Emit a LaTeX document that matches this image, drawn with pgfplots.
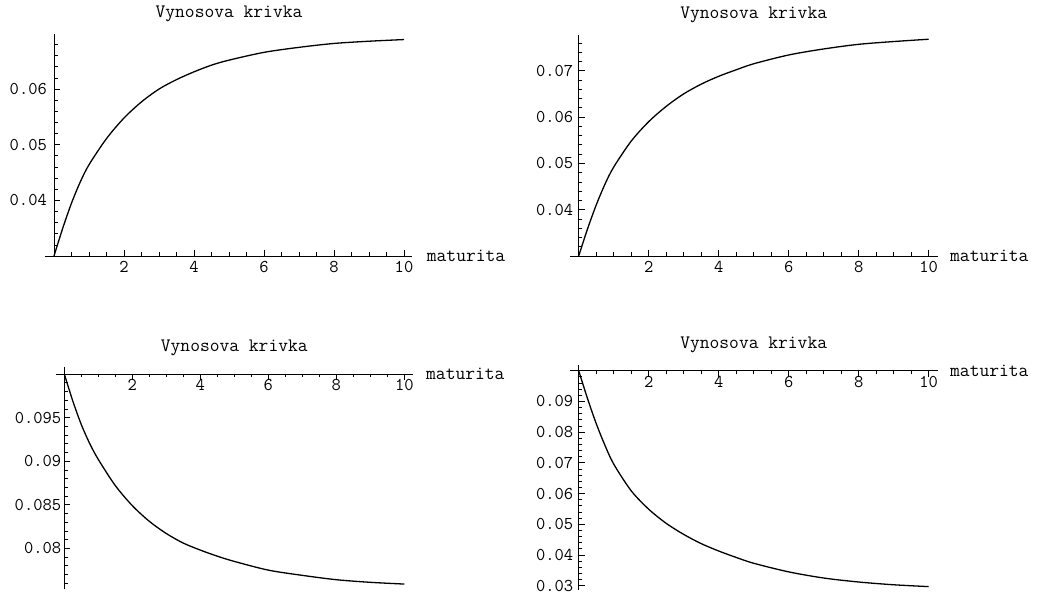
\documentclass[border=0pt]{standalone}
\usepackage{fontspec}
\usepackage{pgfplots}
\pgfplotsset{compat=1.18}
\pgfplotstableread{
x y
0 0.0300
0.25 0.0350
0.5 0.0395
0.75 0.0433
1.0 0.0464
1.5 0.0511
2.0 0.0548
2.5 0.0577
3.0 0.0600
3.5 0.0617
4.0 0.0631
4.5 0.0643
5.0 0.0652
6.0 0.0666
7.0 0.0675
8.0 0.0682
9.0 0.0686
10 0.0689
}\dataA
\pgfplotstableread{
x y
0 0.0300
0.25 0.0358
0.5 0.0410
0.75 0.0455
1.0 0.0492
1.5 0.0548
2.0 0.0590
2.5 0.0623
3.0 0.0650
3.5 0.0671
4.0 0.0688
4.5 0.0702
5.0 0.0715
6.0 0.0734
7.0 0.0747
8.0 0.0757
9.0 0.0763
10 0.0768
}\dataB
\pgfplotstableread{
x y
0 0.1000
0.25 0.0969
0.5 0.0942
0.75 0.0920
1.0 0.0902
1.5 0.0872
2.0 0.0849
2.5 0.0831
3.0 0.0817
3.5 0.0806
4.0 0.0798
4.5 0.0791
5.0 0.0785
6.0 0.0775
7.0 0.0769
8.0 0.0764
9.0 0.0761
10 0.0759
}\dataC
\pgfplotstableread{
x y
0 0.1000
0.25 0.0910
0.5 0.0828
0.75 0.0757
1.0 0.0696
1.5 0.0609
2.0 0.0549
2.5 0.0503
3.0 0.0467
3.5 0.0437
4.0 0.0413
4.5 0.0392
5.0 0.0373
6.0 0.0345
7.0 0.0325
8.0 0.0312
9.0 0.0303
10 0.0297
}\dataD
\pgfplotsset{
  mma/.style={
    scale only axis,
    axis y line*=left,
    xmin=0, xmax=10,
    xtick={2,4,6,8,10},
    xticklabels={2,4,6,8,10},
    minor xtick={0.5,1,1.5,2.5,3,3.5,4.5,5,5.5,6.5,7,7.5,8.5,9,9.5},
    scaled ticks=false,
    tick align=inside,
    major tick length=6pt, minor tick length=3.5pt,
    every tick/.style={black, line width=0.7pt},
    axis line style={black, line width=0.9pt},
    ticklabel style={font=\fontsize{18}{18}\selectfont\ttfamily, inner sep=0pt},
    /pgf/number format/assume math mode=true,
    title={Vynosova krivka},
    title style={font=\fontsize{19}{19}\selectfont\ttfamily, anchor=base, inner sep=0pt},
    xlabel={maturita},
    clip=false,
  },
  curve/.style={black, line width=1.3pt, smooth, no markers},
}
\begin{document}
\begin{tikzpicture}
\path (0pt,0pt) rectangle (1039pt,594pt);
% Panel 1
\begin{axis}[mma, at={(54pt,338pt)}, anchor=south west, width=350pt, height=222pt,
  axis x line*=bottom,
  x axis line style={shorten <=-9pt, shorten >=-8pt},
  ymin=0.03, ymax=0.0699,
  ytick={0.04,0.05,0.06}, yticklabels={0.04,0.05,0.06},
  minor ytick={0.032,0.034,0.036,0.038,0.042,0.044,0.046,0.048,0.052,0.054,0.056,0.058,0.062,0.064,0.066,0.068},
  xticklabel style={anchor=north, yshift=-4.7pt},
  yticklabel style={anchor=east, xshift=-7pt},
  title style={at={(0.5,1)}, yshift=10pt},
  xlabel style={font=\fontsize{19}{19}\selectfont\ttfamily, at={(1,0)}, anchor=base west, inner sep=0pt, xshift=22.7pt, yshift=-5.7pt},
]
\addplot[curve] table[x=x,y=y] {\dataA};
\end{axis}
% Panel 2
\begin{axis}[mma, at={(578.7pt,338pt)}, anchor=south west, width=350pt, height=221.4pt,
  axis x line*=bottom,
  x axis line style={shorten <=-8.7pt, shorten >=-9pt},
  ymin=0.03, ymax=0.0778,
  ytick={0.04,0.05,0.06,0.07}, yticklabels={0.04,0.05,0.06,0.07},
  minor ytick={0.032,0.034,0.036,0.038,0.042,0.044,0.046,0.048,0.052,0.054,0.056,0.058,0.062,0.064,0.066,0.068,0.072,0.074,0.076},
  xticklabel style={anchor=north, yshift=-4.7pt},
  yticklabel style={anchor=east, xshift=-5.3pt},
  title style={at={(0.5,1)}, yshift=10pt},
  xlabel style={font=\fontsize{19}{19}\selectfont\ttfamily, at={(1,0)}, anchor=base west, inner sep=0pt, xshift=21.3pt, yshift=-5.7pt},
]
\addplot[curve] table[x=x,y=y] {\dataB};
\end{axis}
% Panel 3
\begin{axis}[mma, at={(64.3pt,4.7pt)}, anchor=south west, width=340pt, height=215.3pt,
  axis x line*=top,
  x axis line style={shorten <=-8.6pt, shorten >=-9pt},
  y axis line style={shorten >=-7pt},
  ymin=0.0753, ymax=0.1,
  ytick={0.08,0.085,0.09,0.095}, yticklabels={0.08,0.085,0.09,0.095},
  minor ytick={0.076,0.077,0.078,0.079,0.081,0.082,0.083,0.084,0.086,0.087,0.088,0.089,0.091,0.092,0.093,0.094,0.096,0.097,0.098,0.099},
  xticklabel style={anchor=north, yshift=-5.3pt},
  yticklabel style={anchor=east, xshift=-3pt},
  title style={at={(0.5,1)}, yshift=16.7pt},
  xlabel style={font=\fontsize{19}{19}\selectfont\ttfamily, at={(1,1)}, anchor=base west, inner sep=0pt, xshift=21.7pt, yshift=-6pt},
]
\addplot[curve] table[x=x,y=y] {\dataC};
\end{axis}
% Panel 4
\begin{axis}[mma, at={(578.7pt,4pt)}, anchor=south west, width=350pt, height=219.3pt,
  axis x line*=top,
  x axis line style={shorten <=-8.7pt, shorten >=-9pt},
  y axis line style={shorten >=-5.7pt},
  ymin=0.0286, ymax=0.1,
  ytick={0.03,0.04,0.05,0.06,0.07,0.08,0.09}, yticklabels={0.03,0.04,0.05,0.06,0.07,0.08,0.09},
  minor ytick={0.032,0.034,0.036,0.038,0.042,0.044,0.046,0.048,0.052,0.054,0.056,0.058,0.062,0.064,0.066,0.068,0.072,0.074,0.076,0.078,0.082,0.084,0.086,0.088,0.092,0.094,0.096,0.098},
  xticklabel style={anchor=north, yshift=-5.3pt},
  yticklabel style={anchor=east, xshift=-5.3pt},
  title style={at={(0.5,1)}, yshift=15.7pt},
  xlabel style={font=\fontsize{19}{19}\selectfont\ttfamily, at={(1,1)}, anchor=base west, inner sep=0pt, xshift=21.3pt, yshift=-6pt},
]
\addplot[curve] table[x=x,y=y] {\dataD};
\end{axis}
\end{tikzpicture}
\end{document}
